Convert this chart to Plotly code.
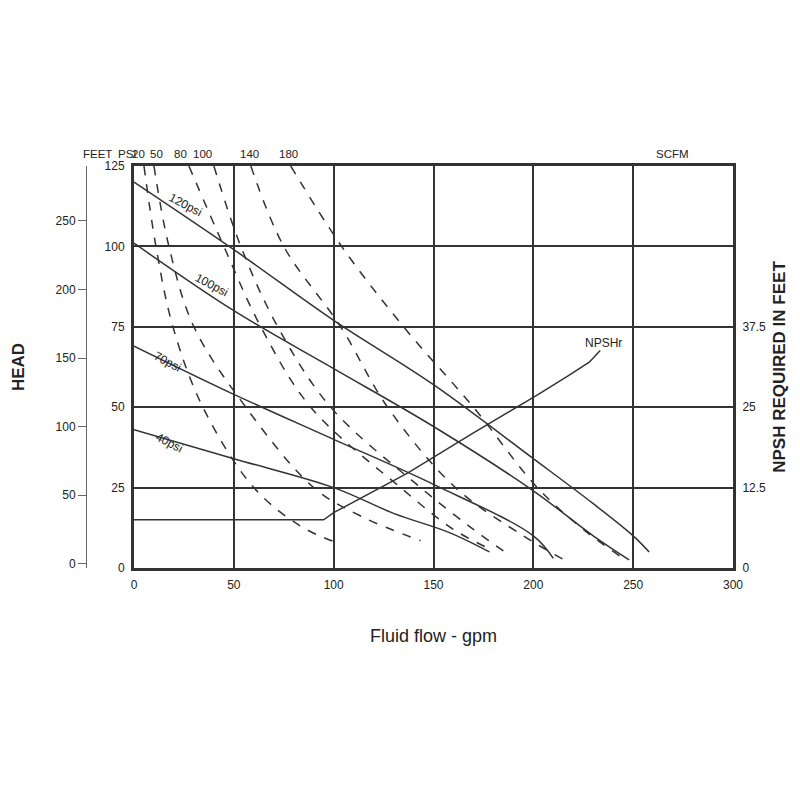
import plotly.graph_objects as go

# Solid head curves at air inlet pressures (gpm, psi)
c120_x = [0, 50, 100, 150, 200, 230, 250, 258]
c120_y = [120, 99, 77, 57, 34, 20, 10, 5]
c100_x = [0, 50, 100, 150, 200, 230, 248]
c100_y = [101, 80, 62, 44, 24, 10, 2.5]
c70_x = [0, 50, 100, 150, 200, 210]
c70_y = [69, 54, 40, 26, 10, 3]
c40_x = [0, 50, 100, 130, 158, 178]
c40_y = [43, 34, 25, 17, 11, 5]

# Dashed air consumption curves (SCFM)
scfm_labels = ["20", "50", "80", "100", "140", "180"]
scfm_x = [
    [5, 11, 19.5, 34.5, 60, 83.5, 101],
    [10, 17.5, 30, 56, 90, 114, 143.5],
    [27.5, 45, 63.5, 88.5, 133.5, 160, 178],
    [40, 53.5, 72, 98.5, 143.5, 170, 188],
    [58.5, 75, 103.5, 127, 161, 195, 217],
    [78.5, 104, 135, 170, 202, 225, 245],
]
scfm_y = [
    [125, 100, 75, 50, 25, 13, 8],
    [125, 100, 75, 50, 25, 16, 8.5],
    [125, 100, 75, 50, 25, 12, 6],
    [125, 100, 75, 50, 25, 12, 4],
    [125, 100, 75, 50, 25, 10, 2],
    [125, 100, 75, 50, 25, 12, 3],
]
scfm_label_x = [2.5, 11.5, 23.5, 34.5, 58, 77.5]

# NPSHr curve (gpm, feet)
npsh_x = [0, 95, 100, 137, 170, 202.5, 218, 228, 233.5]
npsh_ft = [7.5, 7.5, 8.6, 14.75, 21, 27, 30, 32, 33.8]

psi_ticks = [0, 25, 50, 75, 100, 125]
feet_ticks = [0, 50, 100, 150, 200, 250]
npsh_ticks = [0, 12.5, 25, 37.5]
x_ticks = [0, 50, 100, 150, 200, 250, 300]

ink = "#333333"
fig = go.Figure()
for xs, ys in [(c120_x, c120_y), (c100_x, c100_y), (c70_x, c70_y), (c40_x, c40_y)]:
    fig.add_trace(go.Scatter(x=xs, y=ys, mode="lines", line=dict(color=ink, width=1.5, shape="spline"), showlegend=False))
for xs, ys in zip(scfm_x, scfm_y):
    fig.add_trace(go.Scatter(x=xs, y=ys, mode="lines", line=dict(color=ink, width=1.5, dash="dash", shape="spline"), showlegend=False))
fig.add_trace(go.Scatter(x=npsh_x, y=npsh_ft, yaxis="y2", mode="lines", line=dict(color=ink, width=1.5), showlegend=False))
fig.add_trace(go.Scatter(x=[0], y=[0], yaxis="y3", mode="markers", marker=dict(opacity=0), showlegend=False, hoverinfo="skip"))

font = dict(family="Liberation Sans, Arial", size=12, color="#222")
sfont = dict(family="Liberation Sans, Arial", size=11.5, color="#222")
L = 78
W = 800 - L - 75
xd0 = 48 / W
fig.update_layout(
    width=800, height=800, paper_bgcolor="white", plot_bgcolor="white",
    margin=dict(l=L, r=75, t=158, b=240), font=font,
    xaxis=dict(domain=[xd0, 1], range=[0, 300], tickvals=x_ticks, showgrid=True, gridcolor=ink, gridwidth=1.5,
               showline=True, linecolor=ink, linewidth=3, mirror=True, zeroline=False,
               ticks="outside", ticklen=4, tickcolor="white"),
    yaxis=dict(range=[0, 125], tickvals=psi_ticks, showgrid=True, gridcolor=ink, gridwidth=1.5, zeroline=False,
               showline=True, linecolor=ink, linewidth=3, mirror=True, ticks="outside", ticklen=4, tickcolor="white"),
    yaxis2=dict(range=[0, 62.5], tickvals=npsh_ticks, overlaying="y", side="right", showgrid=False, zeroline=False,
                showline=False, ticks="outside", ticklen=6, tickcolor="rgba(0,0,0,0)",
                title=dict(text="<b>NPSH REQUIRED IN FEET</b>", font=dict(size=17, color="#222"), standoff=8)),
    yaxis3=dict(range=[-3, 290], tickvals=feet_ticks, overlaying="y", side="left", anchor="free", position=0,
                showgrid=False, zeroline=False, showline=True, linecolor="#666", linewidth=1, ticks="outside", ticklen=8,
                tickcolor="#666", title=dict(text="<b>HEAD</b>", font=dict(size=17, color="#222"), standoff=25)),
)

ann = []
for lab, lx in zip(scfm_labels, scfm_label_x):
    ann.append(dict(x=lx, y=1.0, xref="x", yref="paper", yanchor="bottom", yshift=4, text=lab, showarrow=False, font=sfont))
ann.append(dict(x=269.5, y=1.0, xref="x", yref="paper", yanchor="bottom", yshift=4, text="SCFM", showarrow=False, font=sfont))
ann.append(dict(x=(80 - 85) / W, y=1.0, xref="paper", yref="paper", yanchor="bottom", yshift=4, text="FEET", showarrow=False, font=sfont))
ann.append(dict(x=(115 - 85) / W, y=1.0, xref="paper", yref="paper", yanchor="bottom", yshift=4, text="PSI", showarrow=False, font=sfont))
for t, lx, ly in [("120psi", 26, 113), ("100psi", 39, 88), ("70psi", 17, 64), ("40psi", 18, 39)]:
    ann.append(dict(x=lx, y=ly, xref="x", yref="y", text=t, textangle=28, showarrow=False, font=font))
ann.append(dict(x=235, y=70, xref="x", yref="y", text="NPSHr", showarrow=False, font=font))
ann.append(dict(x=0.5 + xd0 / 2, y=-0.2, xref="paper", yref="paper", text="Fluid flow - gpm", showarrow=False,
                font=dict(family="Liberation Sans, Arial", size=18, color="#222")))
fig.update_layout(annotations=ann)
fig.write_html("out.html")
